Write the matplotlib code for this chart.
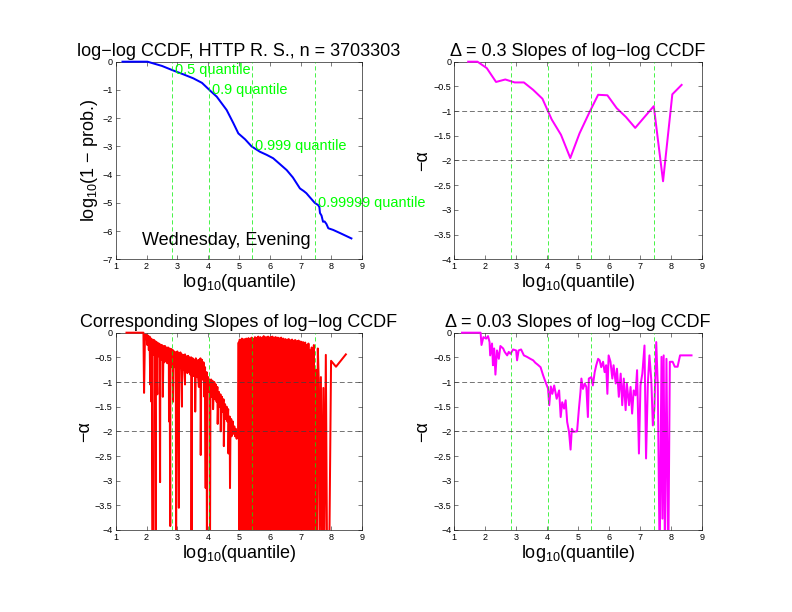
import numpy as np
import matplotlib.pyplot as plt
from matplotlib.patches import Rectangle
from matplotlib.ticker import FuncFormatter

plt.rcParams['font.family'] = ['Liberation Sans', 'DejaVu Sans']
plt.rcParams['mathtext.fontset'] = 'custom'
plt.rcParams['mathtext.rm'] = 'Liberation Sans'
plt.rcParams['mathtext.it'] = 'Liberation Sans:italic'

# log-log CCDF
ccdf_x = [1.22, 2.03, 2.5, 2.84, 3.2, 3.52, 3.8, 4.04, 4.28, 4.6, 4.82, 4.98, 5.2, 5.41,
          5.68, 5.9, 6.11, 6.3, 6.55, 6.75, 6.98, 7.1, 7.19, 7.3, 7.46, 7.57, 7.61, 7.63,
          7.68, 7.73, 7.78, 7.84, 7.9, 8.06, 8.3, 8.65]
ccdf_y = [0, 0, -0.15, -0.3, -0.45, -0.59, -0.75, -1.0, -1.24, -1.71, -2.18, -2.54, -2.75, -3.0,
          -3.19, -3.3, -3.42, -3.6, -3.84, -4.1, -4.49, -4.58, -4.66, -4.8, -5.0, -5.08, -5.15, -5.36,
          -5.45, -5.67, -5.66, -5.75, -5.9, -5.96, -6.08, -6.26]

# quantile markers
quant_x = [2.84, 4.04, 5.41, 7.46]
quant_y = [-0.301, -1.0, -3.0, -5.0]
quant_labels = ['0.5 quantile', '0.9 quantile', '0.999 quantile', '0.99999 quantile']
alpha_refs = [-1, -2]

# delta = 0.3 slopes
s03_x = [1.45, 1.75, 2.05, 2.35, 2.65, 2.95, 3.25, 3.55, 3.85, 4.15, 4.45, 4.75,
         5.05, 5.35, 5.65, 5.95, 6.25, 6.55, 6.85, 7.15, 7.45, 7.75, 8.05, 8.35]
s03_y = [0, 0, -0.13, -0.41, -0.36, -0.42, -0.42, -0.57, -0.75, -1.17, -1.48, -1.95,
         -1.45, -1.05, -0.67, -0.68, -0.94, -1.12, -1.34, -1.12, -0.90, -2.42, -0.66, -0.47]

# corresponding (point to point) slopes
corr_start_x = [1.35, 1.90, 1.95]
corr_start_y = [0, 0, -0.05]

# noisy band between 2.0 and 4.95 (upper and lower edge, every 0.05)
band_top = [-0.04, -0.06, -0.08, -0.12, -0.14, -0.15, -0.18, -0.2, -0.22, -0.24,
            -0.25, -0.27, -0.27, -0.3, -0.3, -0.32, -0.33, -0.35, -0.38, -0.4,
            -0.38, -0.42, -0.4, -0.44, -0.45, -0.44, -0.48, -0.47, -0.5, -0.5,
            -0.52, -0.55, -0.52, -0.56, -0.55, -0.52, -0.55, -0.6, -0.7, -0.8,
            -0.9, -0.95, -0.95, -0.98, -1.0, -1.05, -1.1, -1.2, -1.25, -1.3,
            -1.35, -1.45, -1.5, -1.55, -1.7, -1.75, -1.8, -1.9, -1.95, -2.0]
band_bot = [-0.25, -0.35, -0.3, -0.4, -0.45, -0.4, -0.5, -0.48, -0.5, -0.55,
            -0.55, -0.6, -0.58, -0.62, -0.6, -0.65, -0.7, -0.68, -0.7, -0.72,
            -0.75, -0.72, -0.78, -0.75, -0.8, -0.78, -0.82, -0.8, -0.85, -0.82,
            -0.88, -0.85, -0.9, -0.88, -0.92, -0.9, -0.95, -1.0, -1.05, -1.1,
            -1.2, -1.25, -1.3, -1.3, -1.35, -1.4, -1.45, -1.5, -1.55, -1.6,
            -1.7, -1.75, -1.8, -1.85, -1.95, -2.0, -2.05, -2.1, -2.15, -2.1]
band_start, band_end = 2.0, 4.975

# isolated downward spikes
spike_x = [1.92, 2.12, 2.16, 2.20, 2.30, 2.35, 2.44, 2.53, 2.73, 2.77, 2.86, 2.96, 3.05, 3.15, 3.25,
           3.46, 3.58, 3.70, 3.76, 3.88, 3.92, 3.96, 4.06, 4.16, 4.31, 4.41, 4.51, 4.66, 4.71, 4.76]
spike_y = [-1.22, -1.05, -1.4, -4.6, -4.6, -1.25, -3.03, -1.3, -1.8, -3.92, -1.4, -4.6, -3.55, -1.5, -1.05,
           -4.6, -1.6, -1.1, -2.48, -1.3, -3.15, -4.6, -4.6, -1.55, -1.85, -2.0, -2.3, -2.45, -3.15, -2.1]

# dense oscillating part, 5.0 .. 7.45: peaks alternate with values far below the axis
block_peaks = [-0.2, -0.14, -0.18, -0.12, -0.15, -0.13, -0.17, -0.12, -0.14, -0.11, -0.16, -0.12, -0.1, -0.14,
               -0.12, -0.09, -0.13, -0.1, -0.08, -0.11, -0.09, -0.12, -0.1, -0.07, -0.11, -0.09, -0.1,
               -0.08, -0.12, -0.09, -0.1, -0.08, -0.11, -0.1, -0.09, -0.12, -0.1, -0.11, -0.13, -0.1,
               -0.14, -0.12, -0.15, -0.13, -0.16, -0.14, -0.13, -0.17, -0.15, -0.14, -0.18, -0.16,
               -0.15, -0.19, -0.17, -0.16, -0.2,
               -0.18, -0.21, -0.19, -0.23, -0.2, -0.25, -0.28, -0.22, -0.35, -0.45, -0.3, -0.5, -0.25]
block_floor = -4.6
block_start, block_end = 4.99, 7.45

corr_hi_x = [7.46, 7.50, 7.53, 7.56, 7.59, 7.62, 7.66, 7.70, 7.74, 7.77, 7.82, 7.86, 7.93, 7.99, 8.15, 8.47]
corr_hi_y = [-4.6, -0.75, -4.6, -0.32, -0.95, -4.6, -0.9, -4.6, -1.12, -4.6, -0.45, -4.6, -4.6, -0.57, -0.69, -0.44]

# delta = 0.03 slopes
s003_x = [1.25, 1.85, 1.88, 1.94, 2.03, 2.09, 2.14, 2.16, 2.22, 2.25, 2.29, 2.33, 2.38, 2.44, 2.49,
          2.58, 2.63, 2.71, 2.76, 2.82, 2.9, 3.0, 3.03, 3.08, 3.16, 3.25, 3.35, 3.46, 3.55, 3.62,
          3.7, 3.79, 3.87, 3.95, 4.03, 4.07, 4.12, 4.17, 4.23, 4.31, 4.39, 4.44, 4.49, 4.55, 4.6,
          4.65, 4.71, 4.76, 4.8, 4.85, 4.97, 5.03, 5.08, 5.11, 5.16, 5.22, 5.27, 5.32, 5.35, 5.43,
          5.48, 5.54, 5.59, 5.65, 5.7, 5.75, 5.81, 5.86, 5.91, 5.95, 5.99, 6.05, 6.11, 6.15, 6.22,
          6.26, 6.32, 6.38, 6.43, 6.48, 6.54, 6.58, 6.65, 6.7, 6.75, 6.8, 6.86, 6.91, 6.97, 7.02,
          7.08, 7.15, 7.2, 7.26, 7.31, 7.37, 7.42, 7.47, 7.53, 7.58, 7.64, 7.7, 7.73, 7.77, 7.81,
          7.86, 7.92, 7.97, 8.06, 8.13, 8.22, 8.3, 8.67]
s003_y = [0, 0, -0.25, -0.09, -0.12, -0.07, -0.19, -0.46, -0.22, -0.66, -0.32, -0.85, -0.36, -0.53, -0.27,
          -0.32, -0.39, -0.46, -0.39, -0.43, -0.34, -0.36, -0.56, -0.36, -0.34, -0.46, -0.49, -0.53, -0.56, -0.61,
          -0.65, -0.7, -0.86, -1.0, -1.13, -1.47, -1.09, -1.24, -1.07, -1.34, -1.17, -1.71, -1.41, -1.54, -1.37,
          -1.81, -2.01, -2.37, -1.95, -2.01, -2.0, -1.54, -1.2, -0.93, -1.14, -1.03, -1.1, -1.71, -0.93, -0.9,
          -1.07, -0.8, -0.66, -0.53, -0.56, -0.7, -0.59, -0.8, -0.66, -1.24, -0.46, -0.59, -0.93, -0.66, -1.03,
          -0.73, -1.3, -0.83, -1.47, -0.93, -1.57, -1.03, -1.47, -1.1, -1.64, -1.17, -1.27, -0.76, -2.45, -1.07,
          -0.83, -0.26, -2.55, -1.0, -0.46, -0.96, -1.88, -1.54, -0.19, -1.07, -4.6, -0.49, -3.77, -0.46, -4.6,
          -0.53, -4.6, -0.59, -0.59, -0.69, -0.69, -0.46, -0.46]

minus_fmt = FuncFormatter(lambda v, p: ('%g' % v).replace('-', '\u2212'))
xlab = r'log$_{10}$(quantile)'


def setup(ax, ylim, yticks):
    ax.set_xlim(1, 9)
    ax.set_ylim(*ylim)
    ax.set_xticks(range(1, 10))
    ax.set_yticks(yticks)
    ax.yaxis.set_major_formatter(minus_fmt)
    ax.tick_params(direction='in', top=True, right=True, labelsize=9, length=4, width=0.5, pad=3)
    for s in ax.spines.values():
        s.set_linewidth(0.6)
    ax.set_xlabel(xlab, fontsize=18, labelpad=1)


def data_line(ax, x, y, color):
    # clip at the bottom/sides but let a line lying on the top edge show fully
    line, = ax.plot(x, y, color=color, lw=2, zorder=3)
    box = Rectangle((0, 0), 1, 1.03, transform=ax.transAxes, visible=False)
    ax.add_patch(box)
    line.set_clip_path(box)
    return line


def quantile_lines(ax):
    for q in quant_x:
        ax.axvline(q, color='#00ee00', lw=0.7, dashes=(6, 4), zorder=4)


def alpha_lines(ax):
    for a in alpha_refs:
        ax.axhline(a, color='0.25', lw=0.7, dashes=(7, 4), zorder=4)


def zigzag(upper, lower, start, end):
    y = np.empty(2 * len(upper))
    y[0::2] = upper
    y[1::2] = lower
    return np.linspace(start, end, len(y)), y


fig = plt.figure(figsize=(11, 8.5), dpi=72)
ax1 = fig.add_axes([0.1461, 0.5763, 0.3112, 0.3229])
ax2 = fig.add_axes([0.5736, 0.5763, 0.3124, 0.3229])
ax3 = fig.add_axes([0.1461, 0.1340, 0.3112, 0.3224])
ax4 = fig.add_axes([0.5736, 0.1340, 0.3124, 0.3224])

# top left: CCDF
data_line(ax1, ccdf_x, ccdf_y, 'blue')
quantile_lines(ax1)
for qx, qy, lab in zip(quant_x, quant_y, quant_labels):
    ax1.annotate(lab, (qx, qy), xytext=(3, 0), textcoords='offset points', zorder=5,
                 color='#00ff00', fontsize=14.5, va='center', ha='left', annotation_clip=False)
ax1.text(1.84, -6.32, 'Wednesday, Evening', fontsize=18, va='center', ha='left', zorder=5)
setup(ax1, (-7, 0), range(-7, 1))
ax1.set_ylabel(r'log$_{10}$(1 $-$ prob.)', fontsize=18, labelpad=2)
ax1.set_title('log\u2212log CCDF, HTTP R. S., n = 3703303', fontsize=18, pad=6)

# top right: delta 0.3
data_line(ax2, s03_x, s03_y, 'magenta')
quantile_lines(ax2)
alpha_lines(ax2)
setup(ax2, (-4, 0), np.arange(-4, 0.1, 0.5))
ax2.set_ylabel('\u2212\u03b1', fontsize=18, labelpad=2)
ax2.set_title('\u0394 = 0.3 Slopes of log\u2212log CCDF', fontsize=18, pad=6)

# bottom left: corresponding slopes
band_x, band_y = zigzag(band_top, band_bot, band_start, band_end)
lo_x = np.concatenate([corr_start_x, spike_x, band_x])
lo_y = np.concatenate([corr_start_y, spike_y, band_y])
order = np.argsort(lo_x, kind='stable')
block_x, block_y = zigzag(block_peaks, np.full(len(block_peaks), block_floor), block_start, block_end)
corr_x = np.concatenate([lo_x[order], block_x, corr_hi_x])
corr_y = np.concatenate([lo_y[order], block_y, corr_hi_y])
data_line(ax3, corr_x, corr_y, 'red')
quantile_lines(ax3)
alpha_lines(ax3)
setup(ax3, (-4, 0), np.arange(-4, 0.1, 0.5))
ax3.set_ylabel('\u2212\u03b1', fontsize=18, labelpad=2)
ax3.set_title('Corresponding Slopes of log\u2212log CCDF', fontsize=18, pad=6)

# bottom right: delta 0.03
data_line(ax4, s003_x, s003_y, 'magenta')
quantile_lines(ax4)
alpha_lines(ax4)
setup(ax4, (-4, 0), np.arange(-4, 0.1, 0.5))
ax4.set_ylabel('\u2212\u03b1', fontsize=18, labelpad=2)
ax4.set_title('\u0394 = 0.03 Slopes of log\u2212log CCDF', fontsize=18, pad=6)

fig.savefig('out.png', dpi=72)
